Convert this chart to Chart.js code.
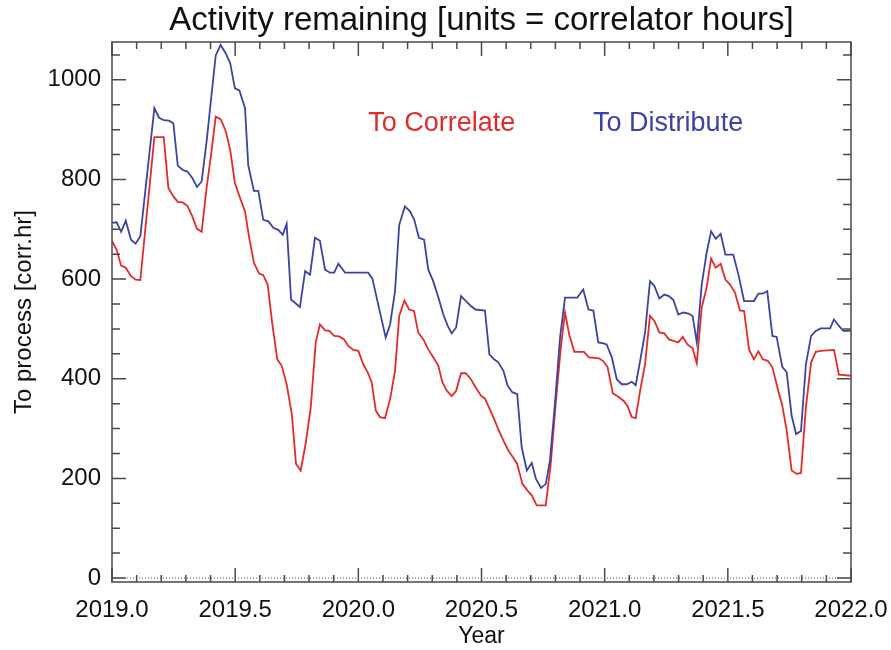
<!DOCTYPE html>
<html>
<head>
<meta charset="utf-8">
<script src="https://cdn.jsdelivr.net/npm/chart.js@4.4.0/dist/chart.umd.min.js"></script>
<style>
  html, body { margin: 0; padding: 0; background: #fff; }
  canvas { display: block; }
</style>
</head>
<body>
<canvas id="activityChart" width="891" height="650"></canvas>
<script>
// Data (decimal year, corr.hr)
const distYears = [2019.0, 2019.019, 2019.037, 2019.056, 2019.077, 2019.096, 2019.115, 2019.172, 2019.191, 2019.210,
    2019.231, 2019.249, 2019.267, 2019.287, 2019.306, 2019.326, 2019.345, 2019.364, 2019.384, 2019.421,
    2019.441, 2019.462, 2019.480, 2019.499, 2019.517, 2019.540, 2019.553, 2019.576, 2019.594, 2019.614,
    2019.635, 2019.655, 2019.675, 2019.693, 2019.709, 2019.727, 2019.763, 2019.784, 2019.804, 2019.824,
    2019.844, 2019.865, 2019.885, 2019.902, 2019.919, 2019.946, 2020.040, 2020.057, 2020.111, 2020.129,
    2020.149, 2020.166, 2020.189, 2020.210, 2020.227, 2020.246, 2020.267, 2020.284, 2020.304, 2020.325,
    2020.345, 2020.363, 2020.379, 2020.397, 2020.417, 2020.437, 2020.457, 2020.476, 2020.514, 2020.532,
    2020.551, 2020.568, 2020.589, 2020.606, 2020.625, 2020.645, 2020.663, 2020.684, 2020.704, 2020.721,
    2020.742, 2020.761, 2020.778, 2020.798, 2020.819, 2020.839, 2020.889, 2020.913, 2020.934, 2020.954,
    2020.974, 2020.995, 2021.008, 2021.029, 2021.049, 2021.069, 2021.090, 2021.110, 2021.126, 2021.144,
    2021.164, 2021.184, 2021.202, 2021.222, 2021.242, 2021.261, 2021.279, 2021.299, 2021.319, 2021.340,
    2021.357, 2021.374, 2021.394, 2021.414, 2021.432, 2021.451, 2021.471, 2021.490, 2021.522, 2021.543,
    2021.566, 2021.606, 2021.624, 2021.642, 2021.660, 2021.681, 2021.698, 2021.721, 2021.739, 2021.759,
    2021.777, 2021.797, 2021.817, 2021.838, 2021.857, 2021.877, 2021.915, 2021.931, 2021.951, 2021.969,
    2022.0];
const distValues = [713, 714, 695, 717, 679, 671, 686, 943, 924, 919,
    918, 913, 828, 819, 816, 803, 785, 796, 876, 1049,
    1070, 1053, 1033, 983, 979, 943, 829, 777, 777, 719,
    716, 703, 699, 689, 711, 559, 544, 616, 609, 683,
    677, 619, 613, 613, 631, 613, 613, 601, 483, 509,
    576, 709, 746, 736, 719, 683, 679, 619, 596, 563,
    529, 506, 491, 503, 566, 556, 546, 539, 537, 449,
    439, 433, 416, 386, 373, 369, 263, 216, 231, 199,
    181, 189, 236, 349, 483, 563, 563, 579, 539, 537,
    473, 471, 469, 443, 399, 389, 389, 394, 387, 436,
    493, 596, 586, 561, 569, 566, 558, 529, 533, 531,
    526, 473, 589, 653, 696, 681, 691, 649, 649, 609,
    556, 556, 571, 571, 576, 486, 484, 424, 413, 326,
    289, 295, 429, 486, 496, 501, 501, 519, 506, 496,
    496];

const corrYears = [2019.0, 2019.019, 2019.037, 2019.056, 2019.077, 2019.096, 2019.115, 2019.172, 2019.210, 2019.229,
    2019.249, 2019.267, 2019.287, 2019.306, 2019.326, 2019.345, 2019.364, 2019.384, 2019.402, 2019.421,
    2019.441, 2019.462, 2019.480, 2019.499, 2019.520, 2019.540, 2019.557, 2019.576, 2019.597, 2019.614,
    2019.632, 2019.651, 2019.671, 2019.689, 2019.709, 2019.730, 2019.747, 2019.766, 2019.786, 2019.807,
    2019.827, 2019.844, 2019.865, 2019.882, 2019.902, 2019.922, 2019.942, 2019.959, 2019.980, 2020.000,
    2020.020, 2020.038, 2020.054, 2020.071, 2020.088, 2020.108, 2020.129, 2020.149, 2020.166, 2020.187,
    2020.206, 2020.226, 2020.243, 2020.264, 2020.284, 2020.304, 2020.325, 2020.341, 2020.359, 2020.379,
    2020.397, 2020.417, 2020.436, 2020.457, 2020.476, 2020.498, 2020.514, 2020.548, 2020.568, 2020.589,
    2020.609, 2020.627, 2020.645, 2020.666, 2020.686, 2020.704, 2020.724, 2020.761, 2020.781, 2020.801,
    2020.822, 2020.839, 2020.856, 2020.877, 2020.916, 2020.936, 2020.977, 2020.995, 2021.012, 2021.033,
    2021.055, 2021.076, 2021.092, 2021.110, 2021.126, 2021.144, 2021.164, 2021.184, 2021.202, 2021.222,
    2021.242, 2021.261, 2021.279, 2021.299, 2021.317, 2021.336, 2021.357, 2021.374, 2021.394, 2021.414,
    2021.432, 2021.451, 2021.471, 2021.490, 2021.509, 2021.529, 2021.549, 2021.566, 2021.586, 2021.606,
    2021.624, 2021.642, 2021.662, 2021.681, 2021.701, 2021.721, 2021.739, 2021.759, 2021.780, 2021.797,
    2021.817, 2021.838, 2021.857, 2021.877, 2021.931, 2021.951, 2022.0];
const corrValues = [676, 659, 627, 623, 606, 599, 598, 885, 885, 783,
    766, 755, 754, 747, 726, 701, 695, 783, 849, 926,
    921, 897, 859, 793, 763, 736, 683, 633, 611, 608,
    589, 509, 439, 426, 389, 329, 229, 216, 269, 343,
    473, 509, 497, 496, 486, 485, 479, 466, 458, 456,
    429, 413, 393, 336, 323, 321, 359, 416, 526, 557,
    539, 536, 493, 479, 459, 443, 426, 393, 376, 365,
    376, 411, 411, 399, 383, 366, 360, 323, 299, 276,
    256, 243, 229, 189, 176, 166, 146, 146, 229, 349,
    463, 533, 489, 454, 454, 443, 441, 435, 423, 371,
    364, 356, 346, 323, 321, 376, 429, 526, 516, 493,
    491, 479, 476, 473, 484, 469, 461, 431, 543, 583,
    641, 623, 631, 599, 589, 573, 537, 536, 459, 439,
    455, 439, 436, 423, 383, 346, 296, 216, 209, 211,
    343, 433, 454, 456, 458, 408, 406];

const seriesNames = ['To Correlate', 'To Distribute'];
const seriesColors = ['#e62a2a', '#3c43a6'];

const FONT = "'Liberation Sans', Arial, sans-serif";

// Draws the IDL-style box: inward ticks on all four sides, dotted zero line, in-plot labels
const idlFrame = {
    id: 'idlFrame',
    beforeDatasetsDraw(chart) {
        const { ctx, chartArea: a, scales: { y } } = chart;
        const y0 = y.getPixelForValue(0);
        ctx.save();
        ctx.strokeStyle = '#555';
        ctx.lineWidth = 1;
        ctx.setLineDash([1, 2]);
        ctx.beginPath();
        ctx.moveTo(a.left, y0);
        ctx.lineTo(a.right, y0);
        ctx.stroke();
        ctx.restore();
    },
    afterDraw(chart) {
        const { ctx, chartArea: a, scales: { x, y } } = chart;
        ctx.save();
        ctx.strokeStyle = '#4a4a4a';
        ctx.lineWidth = 1.5;
        ctx.strokeRect(a.left, a.top, a.right - a.left, a.bottom - a.top);

        ctx.beginPath();
        for (let v = 0; v <= 1050; v += 50) {
            const py = y.getPixelForValue(v);
            const len = v % 200 === 0 ? 14 : 8;
            ctx.moveTo(a.left, py); ctx.lineTo(a.left + len, py);
            ctx.moveTo(a.right, py); ctx.lineTo(a.right - len, py);
        }
        for (let i = 0; i <= 30; i++) {
            const px = x.getPixelForValue(2019 + i / 10);
            const len = i % 5 === 0 ? 14 : 7;
            ctx.moveTo(px, a.bottom); ctx.lineTo(px, a.bottom - len);
            ctx.moveTo(px, a.top); ctx.lineTo(px, a.top + len);
        }
        ctx.stroke();

        // in-plot series labels
        ctx.font = `27px ${FONT}`;
        ctx.textBaseline = 'middle';
        ctx.textAlign = 'left';
        ctx.fillStyle = seriesColors[0];
        ctx.fillText(seriesNames[0], x.getPixelForValue(2020.04), y.getPixelForValue(912));
        ctx.fillStyle = seriesColors[1];
        ctx.fillText(seriesNames[1], x.getPixelForValue(2020.953), y.getPixelForValue(912));
        ctx.restore();
    }
};

const toPoints = (xs, ys) => xs.map((v, i) => ({ x: v, y: ys[i] }));

new Chart(document.getElementById('activityChart'), {
    type: 'line',
    data: {
        datasets: [
            {
                label: seriesNames[1],
                data: toPoints(distYears, distValues),
                borderColor: seriesColors[1],
                borderWidth: 1.8
            },
            {
                label: seriesNames[0],
                data: toPoints(corrYears, corrValues),
                borderColor: seriesColors[0],
                borderWidth: 1.8
            }
        ]
    },
    options: {
        responsive: false,
        animation: false,
        devicePixelRatio: 1,
        layout: { padding: { top: 0, right: 40, left: 0, bottom: 0 } },
        elements: { point: { radius: 0 }, line: { tension: 0 } },
        plugins: {
            legend: { display: false },
            tooltip: { enabled: false },
            title: {
                display: true,
                fullSize: false,
                text: 'Activity remaining [units = correlator hours]',
                color: '#111',
                font: { family: FONT, size: 33, weight: 'normal' },
                padding: { top: 1, bottom: 1.4 }
            }
        },
        scales: {
            x: {
                type: 'linear',
                min: 2019,
                max: 2022,
                grid: { display: false, drawTicks: false },
                border: { display: false },
                ticks: {
                    stepSize: 0.5,
                    includeBounds: false,
                    autoSkip: false,
                    maxRotation: 0,
                    padding: 14,
                    color: '#111',
                    font: { family: FONT, size: 24 },
                    callback: v => v.toFixed(1)
                },
                title: {
                    display: true,
                    text: 'Year',
                    color: '#111',
                    font: { family: FONT, size: 23 },
                    padding: { top: 0, bottom: 0 }
                },
                afterFit: s => { s.height = 68; s.paddingLeft = 0; s.paddingRight = 0; }
            },
            y: {
                min: -8,
                max: 1076,
                grid: { display: false, drawTicks: false },
                border: { display: false },
                ticks: {
                    stepSize: 200,
                    includeBounds: false,
                    padding: 11,
                    color: '#111',
                    font: { family: FONT, size: 24 },
                    callback: v => String(v)
                },
                title: {
                    display: true,
                    text: 'To process [corr.hr]',
                    color: '#111',
                    font: { family: FONT, size: 24 },
                    padding: { top: 10, bottom: 0 }
                },
                afterFit: s => { s.width = 112; }
            }
        }
    },
    plugins: [idlFrame]
});
</script>
</body>
</html>
